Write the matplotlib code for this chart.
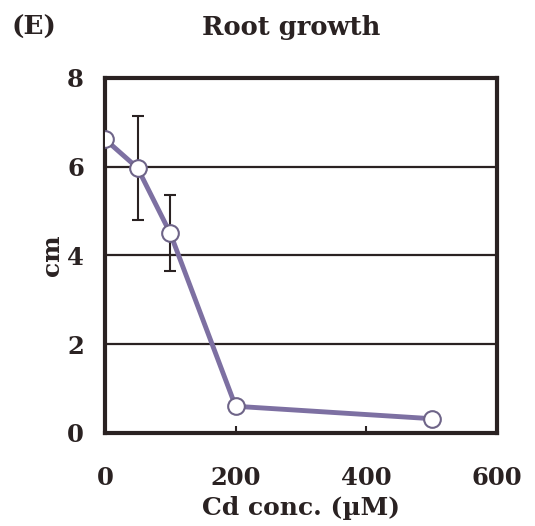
import numpy as np
import matplotlib
matplotlib.use('Agg')
import matplotlib.pyplot as plt

# values
cd_conc = [0, 50, 100, 200, 500]
root_len = [6.62, 5.97, 4.5, 0.6, 0.32]
root_err = [0.0, 1.18, 0.85, 0.12, 0.0]
x_ticks = [0, 200, 400, 600]
y_ticks = [0, 2, 4, 6, 8]

plt.rcParams['font.family'] = 'DejaVu Serif'
plt.rcParams['font.weight'] = 'bold'

fig = plt.figure(figsize=(5.35, 5.26), dpi=100)
ax = fig.add_axes([0.196, 0.177, 0.733, 0.675])

for yv in y_ticks[1:-1]:
    ax.axhline(yv, color='#2a2222', lw=1.6, zorder=1)

ax.errorbar(cd_conc, root_len, yerr=root_err, fmt='none', ecolor='#2a2222',
            elinewidth=1.5, capsize=4, capthick=1.5, zorder=2)
ax.plot(cd_conc, root_len, color='#7d70a2', lw=3.5, marker='o', ms=12,
        mfc='white', mec='#6e6488', mew=1.5, zorder=3)

ax.set_xlim(0, 600)
ax.set_ylim(0, 8)
ax.set_xticks(x_ticks)
ax.set_yticks(y_ticks)
ax.tick_params(axis='both', direction='in', length=5, width=1.5,
               labelsize=17.5, colors='#2a2222')
ax.tick_params(axis='x', pad=24)
ax.tick_params(axis='y', length=0, pad=15)
for lab in ax.get_xticklabels() + ax.get_yticklabels():
    lab.set_fontweight('bold')
for s in ax.spines.values():
    s.set_linewidth(3)
    s.set_color('#2a2222')

ax.set_xlabel('Cd conc. (\u00b5M)', fontsize=18, fontweight='bold',
              color='#2a2222', labelpad=4)
ax.set_ylabel('cm', fontsize=18, fontweight='bold', color='#2a2222',
              labelpad=2)
fig.text(0.545, 0.948, 'Root growth', ha='center', va='center',
         fontsize=18.5, fontweight='bold', color='#2a2222')
fig.text(0.022, 0.948, '(E)', ha='left', va='center',
         fontsize=19, fontweight='bold', color='#2a2222')

fig.savefig('out.png', dpi=100, facecolor='white')
